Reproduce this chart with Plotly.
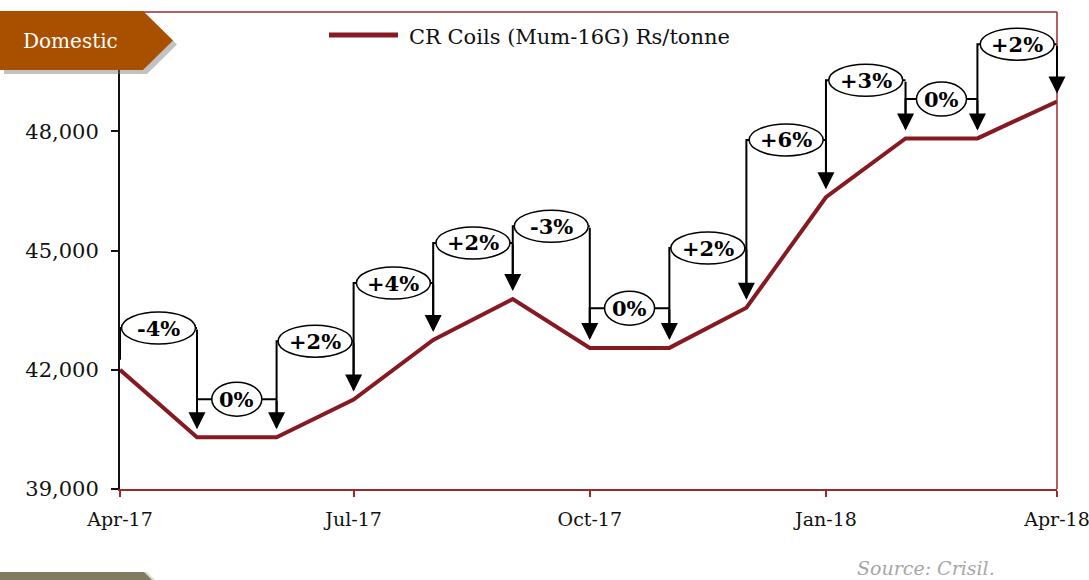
"""CR coil price trend with month-on-month change callouts."""

import pandas as pd
import plotly.graph_objects as go

# Data
months = [
    "2017-04-01", "2017-05-01", "2017-06-01", "2017-07-01", "2017-08-01",
    "2017-09-01", "2017-10-01", "2017-11-01", "2017-12-01", "2018-01-01",
    "2018-02-01", "2018-03-01", "2018-04-01",
]
prices = [42000, 40300, 40300, 41250, 42750, 43780, 42550, 42550, 43560, 46340, 47820, 47820, 48750]
change_labels = ["-4%", "0%", "+2%", "+4%", "+2%", "-3%", "0%", "+2%", "+6%", "+3%", "0%", "+2%"]
callout_levels = [43050, 41260, 42720, 44180, 45190, 45610, 43550, 45060, 47780, 49280, 48810, 50190]
tick_dates = ["2017-04-01", "2017-07-01", "2017-10-01", "2018-01-01", "2018-04-01"]
tick_text = ["Apr-17", "Jul-17", "Oct-17", "Jan-18", "Apr-18"]
y_ticks = [39000, 42000, 45000, 48000]
series_name = "CR Coils (Mum-16G) Rs/tonne"

# Styling
FONT = "DejaVu Serif"
LINE_RED = "#861a22"
FRAME_RED = "#9b2a2d"
TAG_ORANGE = "#a94f00"
W, H = 1089, 580
M = dict(l=120, r=32, t=12, b=91)
PW = W - M["l"] - M["r"]
PH = H - M["t"] - M["b"]
GAP = 250  # keep the bracket lines just off the price line


def paper(px, py):
    return (px - M["l"]) / PW, (H - M["b"] - py) / PH


def paper_path(points):
    parts = []
    for i, (px, py) in enumerate(points):
        x, y = paper(px, py)
        parts.append(("M" if i == 0 else "L") + f"{x:.5f},{y:.5f}")
    return " ".join(parts) + " Z"


dates = pd.to_datetime(months)
fig = go.Figure()

# bracket connectors (left riser + horizontal at callout level)
bx, by = [], []
for i, level in enumerate(callout_levels):
    bx += [dates[i], dates[i], dates[i + 1], None]
    by += [prices[i] + GAP, level, level, None]
fig.add_trace(go.Scatter(x=bx, y=by, mode="lines", line=dict(color="black", width=2),
                         hoverinfo="skip", showlegend=False))

fig.add_trace(go.Scatter(x=dates, y=prices, mode="lines", name=series_name,
                         line=dict(color=LINE_RED, width=4), showlegend=False))

shapes = []
annotations = []
for i, (label, level) in enumerate(zip(change_labels, callout_levels)):
    mid = dates[i] + (dates[i + 1] - dates[i]) / 2
    half_w, half_h = (25, 17) if label == "0%" else (37, 16)
    shapes.append(dict(
        type="circle", xref="x", yref="y", xsizemode="pixel", ysizemode="pixel",
        xanchor=mid, yanchor=level, x0=-half_w, x1=half_w, y0=-half_h, y1=half_h,
        fillcolor="white", line=dict(color="black", width=1.5), layer="above",
    ))
    annotations.append(dict(
        x=mid, y=level, xref="x", yref="y", text=f"<b>{label}</b>", showarrow=False,
        font=dict(family=FONT, size=21, color="black"),
    ))
    annotations.append(dict(
        x=dates[i + 1], y=prices[i + 1], xref="x", yref="y", text="",
        showarrow=True, axref="x", ayref="y", ax=dates[i + 1], ay=level,
        arrowhead=2, arrowsize=1.7, arrowwidth=2, arrowcolor="black", standoff=8,
    ))

# frame: top and right red lines
shapes.append(dict(type="line", xref="paper", yref="paper", x0=0, x1=1, y0=1, y1=1,
                   line=dict(color=FRAME_RED, width=1.5)))
shapes.append(dict(type="line", xref="paper", yref="paper", x0=1, x1=1, y0=0, y1=1,
                   line=dict(color=FRAME_RED, width=1.5)))

# legend sample
lx0, ly = paper(329, 35)
lx1, _ = paper(398, 35)
shapes.append(dict(type="line", xref="paper", yref="paper", x0=lx0, x1=lx1, y0=ly, y1=ly,
                   line=dict(color=LINE_RED, width=5)))
tx, ty = paper(407, 37)
annotations.append(dict(x=tx, y=ty, xref="paper", yref="paper", xanchor="left", yanchor="middle",
                        text=series_name, showarrow=False, font=dict(family=FONT, size=21, color="#111")))

# "Domestic" tag with shadow
tag = [(0, 11), (143, 11), (173, 40.5), (143, 70), (0, 70)]
shapes.append(dict(type="path", xref="paper", yref="paper",
                   path=paper_path([(x + 4, y + 4) for x, y in tag]),
                   fillcolor="rgba(120,120,120,0.45)", line=dict(width=0), layer="above"))
shapes.append(dict(type="path", xref="paper", yref="paper", path=paper_path(tag),
                   fillcolor=TAG_ORANGE, line=dict(width=0), layer="above"))
dx, dy = paper(70, 41)
annotations.append(dict(x=dx, y=dy, xref="paper", yref="paper", text="Domestic", showarrow=False,
                        xanchor="center", yanchor="middle", font=dict(family=FONT, size=20, color="white")))

# bottom tab
tab = [(0, 572), (144, 572), (152, 580), (0, 580)]
shapes.append(dict(type="path", xref="paper", yref="paper",
                   path=paper_path([(x + 3, y) for x, y in tab]),
                   fillcolor="rgba(150,150,150,0.35)", line=dict(width=0)))
shapes.append(dict(type="path", xref="paper", yref="paper", path=paper_path(tab),
                   fillcolor="#827c62", line=dict(width=0)))

# source note
sx, sy = paper(855, 568)
annotations.append(dict(x=sx, y=sy, xref="paper", yref="paper", xanchor="left", yanchor="middle",
                        text="<i>Source: Crisil.</i>", showarrow=False,
                        font=dict(family=FONT, size=19, color="#a6a6a6")))

fig.update_layout(
    width=W, height=H, margin=dict(M, pad=0, autoexpand=False),
    paper_bgcolor="white", plot_bgcolor="white",
    font=dict(family=FONT, color="#111"),
    shapes=shapes, annotations=annotations, showlegend=False,
)
fig.update_xaxes(
    type="date", range=[months[0], months[-1]], tickvals=tick_dates, ticktext=tick_text,
    showgrid=False, zeroline=False, showline=True, linecolor=FRAME_RED, linewidth=2,
    ticks="outside", ticklen=6, tickwidth=2, tickcolor=FRAME_RED,
    tickfont=dict(family=FONT, size=19, color="#111"), ticklabelstandoff=6,
    ticklabeloverflow="allow", automargin=False,
)
fig.update_yaxes(
    range=[39000, 51000], tickvals=y_ticks, tickformat=",d",
    showgrid=False, zeroline=False, showline=True, linecolor="#111", linewidth=2,
    ticks="outside", ticklen=7, tickwidth=1.5, tickcolor="#111",
    tickfont=dict(family=FONT, size=21, color="#111"), ticklabelstandoff=8,
    automargin=False,
)

# page body has a default margin; drop it so the figure sits at the window corner
fig.write_html(
    "out.html",
    config={"displayModeBar": False},
    post_script="document.body.style.margin = '0'; document.body.style.overflow = 'hidden';",
)
